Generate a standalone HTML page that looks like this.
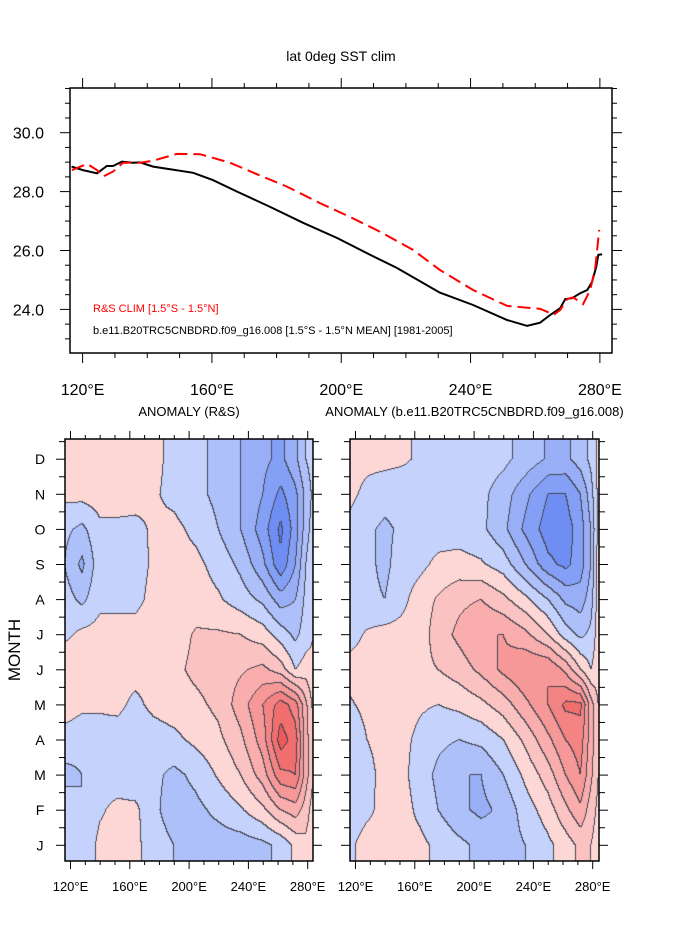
<!DOCTYPE html>
<html><head><meta charset="utf-8">
<style>
body{margin:0;background:#fff;}
#wrap{position:relative;width:689px;height:945px;overflow:hidden;background:#fff;font-family:"Liberation Sans",sans-serif;}
svg{position:absolute;left:0;top:0;}
canvas{position:absolute;}
</style></head>
<body>
<div id="wrap">
<canvas id="cL" style="left:65px;top:439px" width="248" height="422"></canvas>
<canvas id="cR" style="left:350px;top:439px" width="249" height="422"></canvas>
<svg id="sv" width="689" height="945"></svg>
</div>
<script>
// ---- top panel data ----
const blackLon=[116.6,120.1,124.5,127.5,129.4,132.2,135.6,137.8,141.8,147.1,154.2,160.3,167.8,178.0,188.2,198.8,209.0,217.2,230.5,240.8,251.3,257.5,261.5,264.6,267.7,269.3,271.4,273.9,276.1,277.6,278.9,279.5,280.7];
const blackT=[28.85,28.73,28.62,28.87,28.87,29.02,28.98,28.99,28.85,28.76,28.64,28.39,28.0,27.48,26.94,26.42,25.85,25.41,24.57,24.15,23.64,23.44,23.55,23.81,24.04,24.35,24.38,24.55,24.66,24.94,25.45,25.85,25.87];
const redLon=[116.7,121.4,124.5,126.3,129.4,132.5,137.8,141.8,149.2,156.3,165.6,173.9,183.2,193.4,202.7,212.0,222.2,230.5,240.8,251.3,261.5,263.7,265.6,267.7,269.9,271.7,274.8,277.0,278.6,279.8];
const redT=[28.73,28.94,28.73,28.51,28.68,28.98,28.98,29.05,29.28,29.27,28.98,28.59,28.17,27.61,27.14,26.64,26.02,25.34,24.66,24.12,24.02,23.92,23.81,23.98,24.35,24.41,24.18,24.66,25.45,26.70];
const yTicks=["24.0","26.0","28.0","30.0"];
const lonTicks=["120°E","160°E","200°E","240°E","280°E"];
const months=["J","F","M","A","M","J","J","A","S","O","N","D"];
// ---- heatmap data: rows Jan..Dec, cols at gridLon ----
const gridLon=[116,128,140,152,164,176,190,205,220,235,250,262,272,279,284];
const rsAnom=[
[-0.2,-0.3,0.1,0.15,0.1,-0.2,-0.4,-0.55,-0.6,-0.6,-0.5,-0.3,0.1,0.3,0.1],
[-0.2,-0.4,-0.05,0.1,0.1,-0.3,-0.6,-0.5,-0.3,-0.05,0.3,0.8,1.0,0.6,0.2],
[-0.5,-0.4,-0.15,-0.2,-0.3,-0.3,-0.5,-0.3,0.05,0.4,1.0,1.9,2.0,1.0,0.4],
[-0.2,-0.3,-0.15,-0.2,-0.3,-0.2,-0.1,0.1,0.3,0.7,1.4,2.6,2.2,1.0,0.4],
[0.25,0.1,0.05,0.1,-0.1,0.1,0.2,0.3,0.5,1.0,1.6,2.2,1.8,0.9,0.3],
[0.35,0.2,0.15,0.15,0.15,0.15,0.3,0.5,0.6,0.75,0.9,0.6,0.0,0.2,0.1],
[-0.1,0.1,0.15,0.15,0.15,0.2,0.2,0.45,0.45,0.4,0.2,-0.2,-0.5,-0.2,0],
[-0.2,-0.5,-0.1,-0.1,-0.1,0.1,0.15,0.2,0.05,-0.2,-0.5,-1.0,-0.8,-0.3,0],
[-0.4,-0.9,-0.15,-0.15,-0.15,0.05,0.15,0.1,-0.15,-0.5,-1.1,-1.9,-1.2,-0.4,0],
[-0.3,-0.5,-0.1,-0.1,-0.1,0.05,0.1,-0.1,-0.4,-0.8,-1.4,-2.1,-1.4,-0.6,-0.2],
[0.1,0.15,0.2,0.2,0.15,0.05,-0.1,-0.3,-0.5,-0.8,-1.2,-1.7,-1.3,-0.7,-0.3],
[0.2,0.4,0.2,0.2,0.2,0.1,-0.1,-0.3,-0.5,-0.8,-1.1,-1.3,-0.9,-0.4,-0.2]];
const modelAnom=[
[-0.1,0.2,0.15,0.15,0.1,-0.1,-0.3,-0.5,-0.6,-0.4,-0.1,0.2,0.5,0.4,0.2],
[-0.3,-0.1,0.15,0.15,-0.1,-0.4,-0.7,-0.9,-0.7,-0.2,0.2,0.7,1.1,0.6,0.3],
[-0.4,-0.1,0.1,0.1,-0.2,-0.5,-0.8,-0.8,-0.4,0.1,0.6,1.2,1.6,0.9,0.4],
[-0.3,0.0,0.1,0.1,-0.1,-0.3,-0.4,-0.3,0.0,0.5,1.1,1.6,1.8,1.0,0.5],
[-0.05,0.1,0.15,0.15,0.05,0.0,0.1,0.3,0.6,1.1,1.6,2.1,2.1,1.0,0.4],
[0.15,0.15,0.15,0.2,0.3,0.4,0.6,0.9,1.3,1.6,1.6,1.1,0.4,0.0,0.2],
[-0.15,0.05,0.15,0.15,0.2,0.6,0.9,1.2,1.2,0.9,0.4,-0.2,-0.5,-0.3,0.2],
[-0.2,-0.3,-0.4,-0.1,0.2,0.45,0.7,0.8,0.5,0.1,-0.4,-0.9,-1.0,-0.6,0.2],
[-0.3,-0.3,-0.5,-0.2,-0.1,0.1,0.15,0.05,-0.2,-0.8,-1.5,-1.7,-1.4,-0.8,0.2],
[-0.1,-0.3,-0.5,-0.3,-0.2,-0.2,-0.2,-0.3,-0.7,-1.3,-1.8,-1.8,-1.4,-0.8,0.1],
[0.1,-0.1,-0.2,-0.2,-0.2,-0.2,-0.2,-0.3,-0.6,-1.1,-1.6,-1.6,-1.2,-0.6,0.1],
[0.15,0.1,0.1,0.05,-0.05,-0.1,-0.15,-0.2,-0.3,-0.55,-0.85,-0.9,-0.6,-0.3,0.1]];

const NS="http://www.w3.org/2000/svg";
const sv=document.getElementById('sv');
function mk(tag,attrs,parent){const e=document.createElementNS(NS,tag);for(const k in attrs)e.setAttribute(k,attrs[k]);(parent||sv).appendChild(e);return e;}
function txt(s,attrs,parent){const e=mk('text',attrs,parent);e.textContent=s;return e;}

// ---- top panel ----
const T={l:70,r:612,t:88,b:353};
const tx=lon=>82.6+(lon-120)*3.233;
const ty=v=>132.7-(v-30)*29.45;
const topG=mk('g',{});


txt("lat 0deg SST clim",{x:341,y:61,'text-anchor':'middle','font-size':14,fill:'#000'},topG);
for(let lon=120;lon<=280;lon+=10){
  const x=tx(lon),maj=lon%40===0,L=maj?10:5;
  mk('line',{x1:x,x2:x,y1:T.b,y2:T.b+L,stroke:'#000','stroke-width':1},topG);
  mk('line',{x1:x,x2:x,y1:T.t,y2:T.t-L,stroke:'#000','stroke-width':1},topG);
}
lonTicks.forEach((s,i)=>{const t=txt(s,{x:tx(120+40*i),y:395,'text-anchor':'middle','font-size':16},topG);
});
for(let v=22.5;v<=31.5;v+=0.5){
  const y=ty(v); if(y<T.t||y>T.b)continue;
  const maj=Math.abs(v%2)<1e-6,L=maj?10:5;
  mk('line',{x1:T.l-L,x2:T.l,y1:y,y2:y,stroke:'#000','stroke-width':1},topG);
  mk('line',{x1:T.r,x2:T.r+L,y1:y,y2:y,stroke:'#000','stroke-width':1},topG);
}
yTicks.forEach(s=>{const t=txt(s,{x:44,y:ty(parseFloat(s))+6,'text-anchor':'end','font-size':16},topG);
});
mk('rect',{x:T.l,y:T.t,width:T.r-T.l,height:T.b-T.t,fill:'none',stroke:'#000','stroke-width':1.5},topG);
const pb=blackLon.map((l,i)=>tx(l).toFixed(1)+','+ty(blackT[i]).toFixed(1)).join(' ');
const bl=mk('polyline',{points:pb,fill:'none',stroke:'#000','stroke-width':2},topG);

const pr=redLon.map((l,i)=>tx(l).toFixed(1)+','+ty(redT[i]).toFixed(1)).join(' ');
const rl=mk('polyline',{points:pr,fill:'none',stroke:'#f00','stroke-width':2,'stroke-dasharray':'13 6'},topG);

const lg1=txt("R&S CLIM [1.5°S - 1.5°N]",{x:93,y:312,'font-size':11,fill:'#f00'},topG);

const lg2=txt("b.e11.B20TRC5CNBDRD.f09_g16.008 [1.5°S - 1.5°N MEAN] [1981-2005]",{x:93,y:334,'font-size':11,fill:'#000'},topG);


// ---- heatmaps ----
const P={t:439,b:861};
const monthY=m=>845.3-m*35.1;
const levels=[-2.0,-1.6,-1.2,-0.8,-0.4,0,0.4,0.8,1.2,1.6,2.0,2.4];
const colors=["#5a7ef2","#6e8ef4","#839ff6","#98aff8","#aec0fa","#c4d2fc","#fdd7d6","#fbc2c2","#f9adad","#f79898","#f48383","#f16e6e","#ee5a5a"];
function lvl(v){let i=0;while(i<levels.length&&v>=levels[i])i++;return i;}
function interp(data,lon,m){
  let j=0;while(j<gridLon.length-2&&lon>gridLon[j+1])j++;
  let fx=(lon-gridLon[j])/(gridLon[j+1]-gridLon[j]);fx=Math.max(0,Math.min(1,fx));
  m=Math.max(0,Math.min(11,m));let i=Math.min(10,Math.floor(m));const fy=m-i;
  const a=data[i][j]*(1-fx)+data[i][j+1]*fx, b=data[i+1][j]*(1-fx)+data[i+1][j+1]*fx;
  return a*(1-fy)+b*fy;
}
function hex(c){return [parseInt(c.substr(1,2),16),parseInt(c.substr(3,2),16),parseInt(c.substr(5,2),16)];}
const rgb=colors.map(hex);
function drawHeat(id,data,x0,lon120x){
  const cv=document.getElementById(id),ctx=cv.getContext('2d'),W=cv.width,H=cv.height;
  const img=ctx.createImageData(W,H);const L=new Int8Array(W*H);
  for(let y=0;y<H;y++)for(let x=0;x<W;x++){
    const lon=120+(x0+x+0.5-lon120x)/1.4825, m=(845.3-(P.t+y+0.5))/35.1;
    L[y*W+x]=lvl(interp(data,lon,m));
  }
  for(let y=0;y<H;y++)for(let x=0;x<W;x++){
    const k=y*W+x,l=L[k];let c=rgb[l];
    const edge=(x<W-1&&L[k+1]!==l)||(y<H-1&&L[k+W]!==l);
    if(edge)c=[70,70,80];
    img.data[k*4]=c[0];img.data[k*4+1]=c[1];img.data[k*4+2]=c[2];img.data[k*4+3]=255;
  }
  ctx.putImageData(img,0,0);
}
drawHeat('cL',rsAnom,65,70.5);
drawHeat('cR',modelAnom,350,355.5);

function heatAxes(x0,x1,lon120x,title,name,showMonths){
  const g=mk('g',{});
  
  
  txt(title,{x:(x0+x1)/2,y:416,'text-anchor':'middle','font-size':13},g);
  for(let lon=120;lon<=280;lon+=10){
    const x=lon120x+(lon-120)*1.4825,maj=lon%40===0,L=maj?8:4;
    mk('line',{x1:x,x2:x,y1:P.b,y2:P.b+L,stroke:'#000'},g);
    mk('line',{x1:x,x2:x,y1:P.t,y2:P.t-L,stroke:'#000'},g);
  }
  lonTicks.forEach((s,i)=>{const t=txt(s,{x:lon120x+160*i*1.4825/4,y:891,'text-anchor':'middle','font-size':13},g);
  });
  for(let k=0;k<=24;k++){
    const y=monthY(k/2-0.5); if(y<P.t-1||y>P.b+1)continue;
    const L=(k%2===1)?9:6;
    mk('line',{x1:x0-L,x2:x0,y1:y,y2:y,stroke:'#000'},g);
    mk('line',{x1:x1,x2:x1+L,y1:y,y2:y,stroke:'#000'},g);
  }
  if(showMonths){months.forEach((s,m)=>{const t=txt(s,{x:40,y:monthY(m)+5,'text-anchor':'middle','font-size':14},g);
  });}
  mk('rect',{x:x0,y:P.t,width:x1-x0,height:P.b-P.t,fill:'none',stroke:'#000','stroke-width':1.5},g);
}
heatAxes(65,313,70.5,"ANOMALY (R&S)","rs-anomaly-panel",true);
heatAxes(350,599,355.5,"ANOMALY (b.e11.B20TRC5CNBDRD.f09_g16.008)","model-anomaly-panel",false);
const mt=txt("MONTH",{x:20,y:650,'text-anchor':'middle','font-size':17,transform:'rotate(-90 20 650)'});

</script>
</body></html>
